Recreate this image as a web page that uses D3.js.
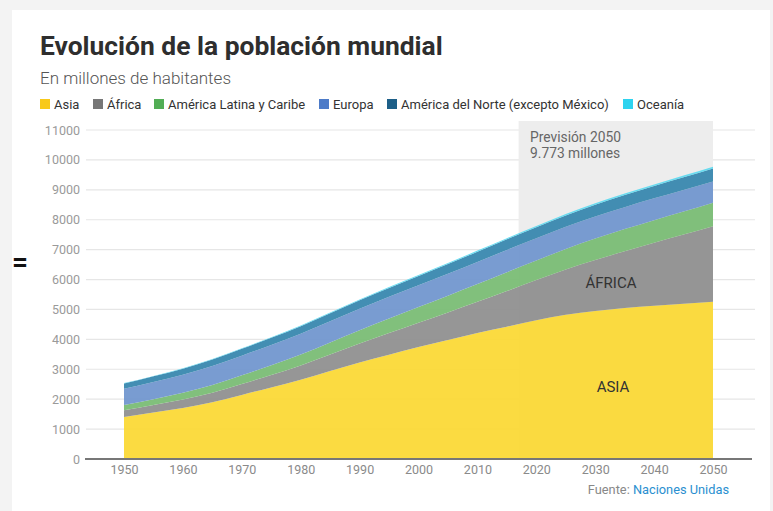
<!DOCTYPE html>
<html><head><meta charset="utf-8">
<script src="https://cdn.jsdelivr.net/npm/d3@7"></script>
<style>
html,body{margin:0;padding:0;background:#f3f3f3;}
svg{display:block;font-family:Roboto,"Open Sans",sans-serif;}
</style></head><body>
<div id="chart"></div>
<script>
const years = [1950,1955,1960,1965,1970,1975,1980,1985,1990,1995,2000,2005,2010,2015,2020,2025,2030,2035,2040,2045,2050];
const asia = [1404,1553,1705,1895,2142,2393,2650,2941,3226,3488,3741,3978,4210,4420,4641,4822,4947,5045,5123,5187,5257];
const africa = [229,254,285,322,366,416,478,550,632,721,814,920,1044,1194,1340,1515,1704,1900,2106,2316,2528];
const latam = [169,193,221,254,288,325,364,405,447,487,526,563,598,632,654,686,718,741,757,770,780];
const europa = [549,577,605,635,657,677,694,708,721,728,726,729,736,741,743,741,739,734,728,722,716];
const norteamerica = [173,187,204,219,231,242,254,267,280,296,312,327,343,357,368,380,395,405,414,425,435];
const oceania = [13,14,16,18,20,21,23,25,27,29,31,34,36,40,42,45,48,50,53,55,57];

const seriesNames = ["Asia","África","América Latina y Caribe","Europa","América del Norte (excepto México)","Oceanía"];
const seriesValues = [asia, africa, latam, europa, norteamerica, oceania];
const areaColors = ["#fbd833","#8e8e8e","#77bb72","#6f95cd","#3585ad","#5cd9f0"];
const legendColors = ["#f8c91a","#777777","#52ad55","#4d7bc8","#1d5f88","#2ed3ef"];
const yTicks = [0,1000,2000,3000,4000,5000,6000,7000,8000,9000,10000,11000];
const xTicks = [1950,1960,1970,1980,1990,2000,2010,2020,2030,2040,2050];
const forecastStart = 2017;

const W = 773, H = 511;
const svg = d3.select("#chart").append("svg").attr("width", W).attr("height", H);

// card
svg.append("rect").attr("x",12).attr("y",10).attr("width",W-15).attr("height",H-10).attr("fill","#fff");

const x = d3.scaleLinear().domain([1950,2050]).range([124,713]);
const y = d3.scaleLinear().domain([0,11000]).range([459,130]);

// title
svg.append("text").attr("x",40).attr("y",55).text("Evolución de la población mundial")
  .attr("font-size",26.4).attr("font-weight",700).attr("fill","#2e2e2e");
svg.append("text").attr("x",40).attr("y",84).text("En millones de habitantes")
  .attr("font-size",17).attr("font-weight",300).attr("fill","#555");

// legend
const legendX = [40,93,154,319,387,623];
const lg = svg.append("g");
seriesNames.forEach((n,i)=>{
  lg.append("rect").attr("x",legendX[i]).attr("y",99).attr("width",10).attr("height",10).attr("fill",legendColors[i]);
  lg.append("text").attr("x",legendX[i]+14).attr("y",108.5).text(n).attr("font-size",13).attr("fill","#333");
});

// grid
const grid = svg.append("g");
yTicks.forEach(t=>{
  if(t===0) return;
  grid.append("line").attr("x1",86).attr("x2",755).attr("y1",y(t)).attr("y2",y(t))
    .attr("stroke","#e6e6e6").attr("stroke-width",1.2);
});

// forecast band
svg.append("rect").attr("x",x(forecastStart)).attr("y",121)
  .attr("width",x(2050)-x(forecastStart)).attr("height",y(0)-121).attr("fill","#ededed");

// stacked areas
const table = years.map((yr,i)=>{
  const o = {year: yr};
  seriesNames.forEach((n,j)=>o[n]=seriesValues[j][i]);
  return o;
});
const stack = d3.stack().keys(seriesNames)(table);
const area = d3.area().x(d=>x(d.data.year)).y0(d=>y(d[0])).y1(d=>y(d[1])).curve(d3.curveMonotoneX);
svg.append("g").selectAll("path").data(stack).join("path")
  .attr("d",area).attr("fill",(d,i)=>areaColors[i]).attr("fill-opacity",0.93);

// axis
const yAxis = svg.append("g").attr("transform","translate(80,0)")
  .call(d3.axisLeft(y).tickValues(yTicks).tickSize(0).tickPadding(0).tickFormat(d3.format("d")));
yAxis.select(".domain").remove();
yAxis.selectAll("text").attr("font-size",12.5).attr("fill","#9a9a9a").attr("font-family","Roboto,sans-serif");

svg.append("line").attr("x1",85).attr("x2",752).attr("y1",y(0)).attr("y2",y(0))
  .attr("stroke","#777").attr("stroke-width",2);

const xAxis = svg.append("g").attr("transform","translate(0,465)")
  .call(d3.axisBottom(x).tickValues(xTicks).tickSize(0).tickPadding(0).tickFormat(d3.format("d")));
xAxis.select(".domain").remove();
xAxis.selectAll("text").attr("font-size",12.5).attr("fill","#8a8a8a").attr("dy","0.71em").attr("font-family","Roboto,sans-serif");

// annotations
svg.append("text").attr("x",530).attr("y",142).text("Previsión 2050").attr("font-size",13.8).attr("fill","#666");
svg.append("text").attr("x",530).attr("y",158).text("9.773 millones").attr("font-size",13.8).attr("fill","#666");
svg.append("text").attr("x",611).attr("y",288).attr("text-anchor","middle").text("ÁFRICA").attr("font-size",15).attr("fill","#333");
svg.append("text").attr("x",613).attr("y",392).attr("text-anchor","middle").text("ASIA").attr("font-size",15).attr("fill","#333");

// source
const src = svg.append("text").attr("x",729).attr("y",494).attr("text-anchor","end").attr("font-size",12.8);
src.append("tspan").attr("fill","#888").text("Fuente: ");
src.append("tspan").attr("fill","#2a8fd0").text("Naciones Unidas");

// side mark
svg.append("text").attr("x",12).attr("y",271).text("=").attr("font-size",28).attr("font-weight",700).attr("fill","#111");
</script>
</body></html>
